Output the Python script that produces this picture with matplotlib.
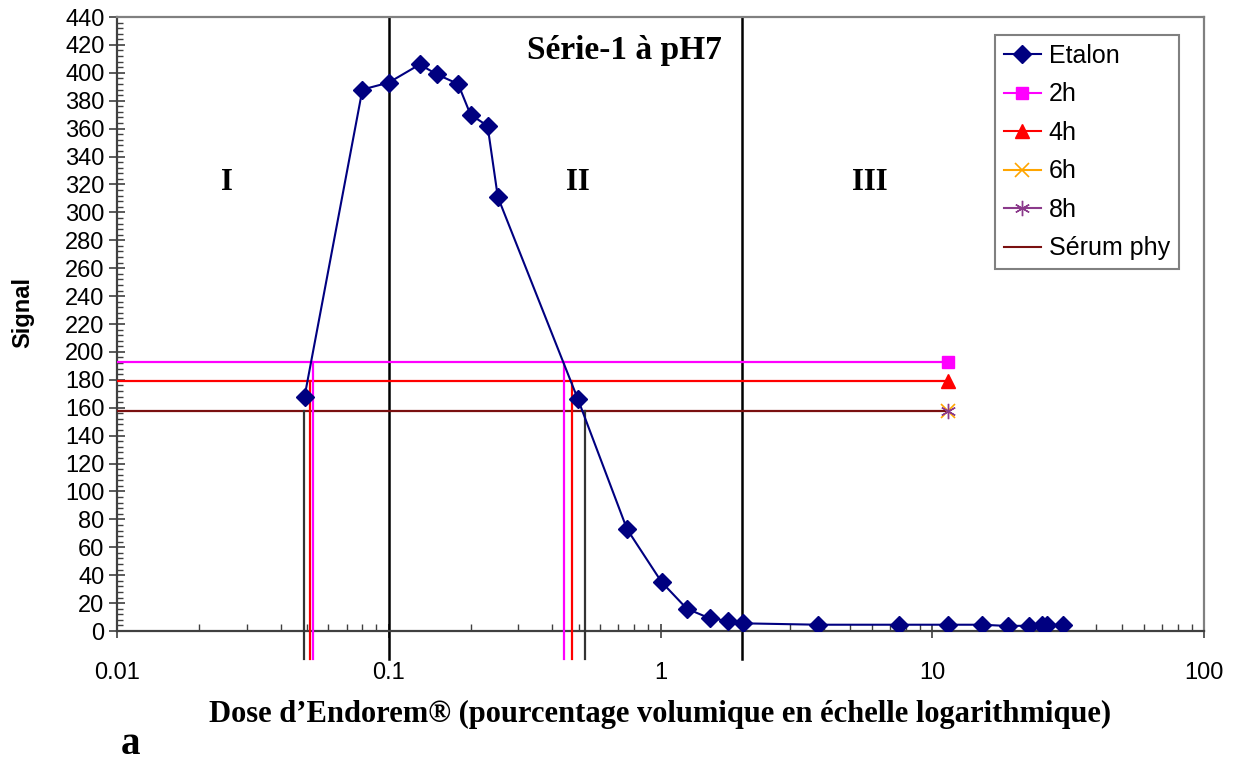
import numpy as np
import matplotlib
matplotlib.use("Agg")
import matplotlib.pyplot as plt
from matplotlib.ticker import FixedLocator, MultipleLocator, LogLocator, NullFormatter
from matplotlib.lines import Line2D

# Etalon calibration curve (dose in % volumique, signal)
etalon_dose = [0.049, 0.080, 0.100, 0.130, 0.150, 0.180, 0.200, 0.231, 0.252,
               0.497, 0.753, 1.01, 1.25, 1.52, 1.77, 2.01,
               3.80, 7.55, 11.4, 15.2, 19.0, 22.7, 25.3, 26.4, 30.3]
etalon_signal = [168, 388, 393, 406, 399, 392, 370, 362, 311,
                 166, 73, 35, 16, 9, 7.4, 5.5,
                 4.5, 4.5, 4.5, 4.5, 3.6, 3.8, 4.0, 4.2, 4.5]

# sample levels (horizontal lines ending at the sample marker)
level_dose = 11.4
signal_2h = 193
signal_4h = 179
signal_6h = 158
signal_8h = 158
signal_serum = 158

# doses where each level crosses the curve (vertical drops)
cross_2h = [0.0525, 0.443]
cross_4h = [0.0511, 0.473]
cross_serum = [0.0486, 0.526]

zone_bounds = [0.1, 2]
zone_labels = ["I", "II", "III"]
zone_label_x = [0.101, 0.424, 0.693]

x_ticks = [0.01, 0.1, 1, 10, 100]
x_ticklabels = ["0.01", "0.1", "1", "10", "100"]
y_ticks = list(range(0, 441, 20))

NAVY = "#000080"
MAGENTA = "#FF00FF"
RED = "#FF0000"
ORANGE = "#FFA500"
PURPLE = "#8B3A8B"
DARKRED = "#7A1010"
DROP = "#333333"

plt.rcParams["font.family"] = ["Liberation Sans", "DejaVu Sans"]
SERIF = ["Liberation Serif", "DejaVu Serif"]

fig = plt.figure(figsize=(12.4, 7.63), dpi=100)
ax = fig.add_axes([117 / 1240, (763 - 631) / 763, (1204 - 117) / 1240, (631 - 17) / 763])

ax.set_xscale("log")
ax.set_xlim(0.01, 100)
ax.set_ylim(0, 440)

y_low = -20
# zone boundaries
for xb in zone_bounds:
    ax.plot([xb, xb], [y_low, 440], color="black", lw=1.8, clip_on=False, zorder=2)

# horizontal levels
ax.plot([0.01, level_dose], [signal_2h, signal_2h], color=MAGENTA, lw=1.6, zorder=3)
ax.plot([0.01, level_dose], [signal_4h, signal_4h], color=RED, lw=1.6, zorder=3)
ax.plot([0.01, level_dose], [signal_serum, signal_serum], color=DARKRED, lw=1.6, zorder=3)

# vertical drops
for xc in cross_2h:
    ax.plot([xc, xc], [y_low, signal_2h], color=MAGENTA, lw=1.6, clip_on=False, zorder=3)
for xc in cross_4h:
    ax.plot([xc, xc], [y_low, signal_4h], color=RED, lw=1.6, clip_on=False, zorder=3)
for xc in cross_serum:
    ax.plot([xc, xc], [y_low, signal_serum], color=DROP, lw=1.6, clip_on=False, zorder=3)

# sample markers
ax.plot([level_dose], [signal_2h], "s", color=MAGENTA, ms=9, zorder=5)
ax.plot([level_dose], [signal_4h], "^", color=RED, ms=10, zorder=5)
ax.plot([level_dose], [signal_6h], "x", color=ORANGE, ms=10, mew=1.2, zorder=5)
ax.plot([level_dose], [signal_8h], marker=(6, 2, 0), color=PURPLE, ms=11, mew=1.0, zorder=6)

# etalon curve
ax.plot(etalon_dose, etalon_signal, color=NAVY, lw=1.5, marker="D", ms=9, zorder=4)

# axes styling
ax.xaxis.set_major_locator(FixedLocator(x_ticks))
ax.set_xticklabels(x_ticklabels)
ax.xaxis.set_minor_locator(LogLocator(base=10, subs=np.arange(2, 10)))
ax.xaxis.set_minor_formatter(NullFormatter())
ax.set_yticks(y_ticks)
ax.yaxis.set_minor_locator(MultipleLocator(4))

ax.tick_params(axis="x", which="major", direction="inout", length=10, width=1.2,
               labelsize=17, pad=17, colors="#404040", labelcolor="black")
ax.tick_params(axis="x", which="minor", direction="in", length=5, width=1.0, colors="#404040")
ax.tick_params(axis="y", which="major", direction="inout", length=12, width=1.2,
               labelsize=17, pad=3, colors="#404040", labelcolor="black")
ax.tick_params(axis="y", which="minor", direction="in", length=4, width=1.0, colors="#404040")

for side in ["left", "bottom"]:
    ax.spines[side].set_color("#404040")
    ax.spines[side].set_linewidth(1.6)
for side in ["top", "right"]:
    ax.spines[side].set_color("#808080")
    ax.spines[side].set_linewidth(1.6)

# texts
ax.text(0.467, 0.946, "Série-1 à pH7", transform=ax.transAxes, ha="center", va="center",
        family=SERIF, fontweight="bold", fontsize=24)
for lab, xf in zip(zone_labels, zone_label_x):
    ax.text(xf, 0.73, lab, transform=ax.transAxes, ha="center", va="center",
            family=SERIF, fontweight="bold", fontsize=22)

fig.text(0.018, 0.591, "Signal", rotation=90, ha="center", va="center",
         fontweight="bold", fontsize=17)
fig.text(0.532, 0.064, "Dose d\u2019Endorem\u00ae (pourcentage volumique en échelle logarithmique)",
         ha="center", va="center", family=SERIF, fontweight="bold", fontsize=22)
fig.text(0.105, 0.024, "a", ha="center", va="center", family=SERIF, fontweight="bold", fontsize=28)

# legend
handles = [
    Line2D([], [], color=NAVY, marker="D", ms=9, lw=1.5),
    Line2D([], [], color=MAGENTA, marker="s", ms=9, lw=1.5),
    Line2D([], [], color=RED, marker="^", ms=10, lw=1.5),
    Line2D([], [], color=ORANGE, marker="x", ms=10, mew=1.2, lw=1.5),
    Line2D([], [], color=PURPLE, marker=(6, 2, 0), ms=11, mew=1.0, lw=1.5),
    Line2D([], [], color=DARKRED, lw=1.5),
]
labels = ["Etalon", "2h", "4h", "6h", "8h", "Sérum phy"]
leg = fig.legend(handles, labels, loc="upper left", bbox_to_anchor=(995 / 1240, 1 - 35 / 763),
                 bbox_transform=fig.transFigure, fancybox=False, fontsize=18,
                 handlelength=1.5, handletextpad=0.3, labelspacing=0.58, borderpad=0.35,
                 borderaxespad=0, framealpha=1)
leg.get_frame().set_edgecolor("#808080")
leg.get_frame().set_linewidth(1.5)

fig.savefig("out.png", dpi=100)
